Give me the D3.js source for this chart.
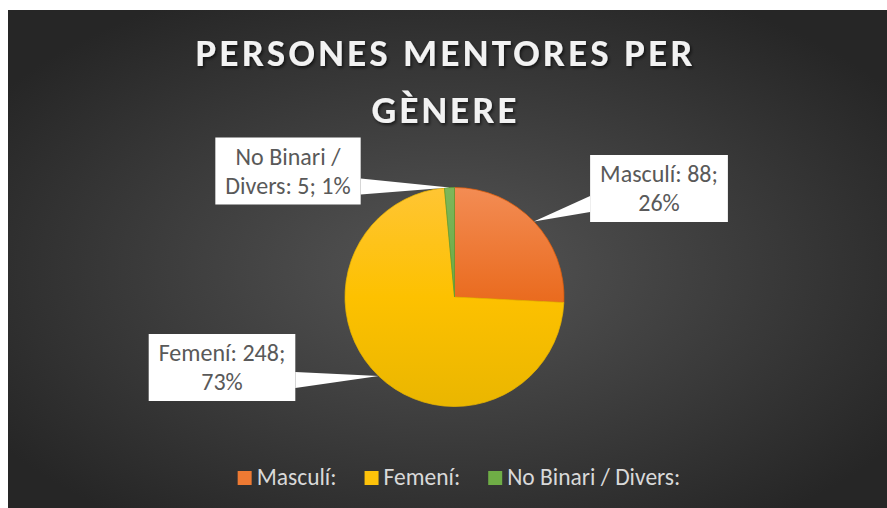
<!DOCTYPE html>
<html>
<head>
<meta charset="utf-8">
<script src="https://cdn.jsdelivr.net/npm/d3@7"></script>
<style>
  body { margin: 0; background: #fff; }
  svg { display: block; }
</style>
</head>
<body>
<div id="chart"></div>
<script>
// data
var categories = ["Masculí", "Femení", "No Binari / Divers"];
var values = [88, 248, 5];
var titleLines = ["PERSONES MENTORES PER", "GÈNERE"];

var width = 887, height = 508;
var font = "Carlito, Calibri, Lato, sans-serif";

// gradient stops (top, middle, bottom) per slice
var sliceColors = [["#F38C54", "#EA6C20", "#DE5C0A"], ["#FFC534", "#FDC100", "#EAB600"], ["#7DB75A", "#6CA944", "#5E9D35"]];
var legendColors = ["#EE7A33", "#FDC20A", "#6FAD46"];

var svg = d3.select("#chart").append("svg")
    .attr("width", width)
    .attr("height", height);

var defs = svg.append("defs");

// background radial gradient
var bg = defs.append("radialGradient").attr("id", "bg")
    .attr("cx", "50%").attr("cy", "52%").attr("r", "62%");
bg.append("stop").attr("offset", "0%").attr("stop-color", "#555555");
bg.append("stop").attr("offset", "100%").attr("stop-color", "#262626");

var shadow = defs.append("filter").attr("id", "shadow")
    .attr("x", "-10%").attr("y", "-30%").attr("width", "120%").attr("height", "160%");
shadow.append("feDropShadow")
    .attr("dx", 1.5).attr("dy", 2).attr("stdDeviation", 1.5)
    .attr("flood-color", "#000").attr("flood-opacity", 0.6);

svg.append("rect")
    .attr("x", 8).attr("y", 10)
    .attr("width", width - 8).attr("height", height - 10)
    .attr("fill", "url(#bg)");

// title
svg.append("g")
    .attr("filter", "url(#shadow)")
    .selectAll("text")
    .data(titleLines)
    .enter().append("text")
    .attr("x", 444)
    .attr("y", (d, i) => 66 + i * 57)
    .attr("text-anchor", "middle")
    .attr("font-family", font)
    .attr("font-weight", "bold")
    .attr("font-size", 39)
    .attr("fill", "#F2F2F2")
    .attr("textLength", (d, i) => i === 0 ? 497 : 145)
    .attr("lengthAdjust", "spacing")
    .text(d => d);

// pie
var cx = 454.5, cy = 297, r = 109.5;
var total = d3.sum(values);
var pieData = d3.pie().sort(null)(values);
var arc = d3.arc().innerRadius(0).outerRadius(r);
var edgeArc = d3.arc().innerRadius(r).outerRadius(r);

// vertical gradient across the whole pie (local coords of the pie group)
sliceColors.forEach(function(c, i) {
    var g = defs.append("linearGradient").attr("id", "slice" + i)
        .attr("gradientUnits", "userSpaceOnUse")
        .attr("x1", 0).attr("y1", -r).attr("x2", 0).attr("y2", r);
    g.append("stop").attr("offset", "0%").attr("stop-color", c[0]);
    g.append("stop").attr("offset", "50%").attr("stop-color", c[1]);
    g.append("stop").attr("offset", "100%").attr("stop-color", c[2]);
});

var pieG = svg.append("g").attr("transform", "translate(" + cx + "," + cy + ")");
pieG.selectAll("path")
    .data(pieData)
    .enter().append("path")
    .attr("d", arc)
    .attr("fill", (d, i) => "url(#slice" + i + ")")
    .attr("stroke", (d, i) => sliceColors[i][2])
    .attr("stroke-width", 0.75);

// data label callouts
var labelOffset = [[204.5, -108.5], [-232.5, 70.5], [-166.5, -126]];
var labelFont = 24, lineH = 29, boxH = 67;

var labelsG = svg.append("g");
pieData.forEach(function(d, i) {
    var pct = Math.round(values[i] / total * 100);
    var words = (categories[i] + ": " + values[i] + "; " + pct + "%").split(" ");

    // greedy wrap
    var tmp = labelsG.append("text").attr("font-family", font).attr("font-size", labelFont);
    var lines = [], cur = "";
    words.forEach(function(w) {
        var test = cur ? cur + " " + w : w;
        tmp.text(test);
        if (cur && tmp.node().getComputedTextLength() > 140) {
            lines.push(cur);
            cur = w;
        } else cur = test;
    });
    lines.push(cur);
    var maxW = d3.max(lines, function(l) { tmp.text(l); return tmp.node().getComputedTextLength(); });
    tmp.remove();

    var boxW = maxW + 20;
    var bx = cx + labelOffset[i][0] - boxW / 2;
    var by = cy + labelOffset[i][1] - boxH / 2;
    var tip = edgeArc.centroid(d);
    var tx = cx + tip[0], ty = cy + tip[1];

    // pointer base on the box side that faces the tip
    var baseX = tx > bx + boxW ? bx + boxW : bx;
    var baseC = Math.max(by + 18, Math.min(ty + 4, by + boxH - 18));
    labelsG.append("path")
        .attr("d", "M" + baseX + "," + (baseC - 8) + "L" + tx + "," + ty + "L" + baseX + "," + (baseC + 8) + "Z")
        .attr("fill", "#fff");
    labelsG.append("rect")
        .attr("x", bx).attr("y", by)
        .attr("width", boxW).attr("height", boxH)
        .attr("fill", "#fff");

    labelsG.append("text")
        .attr("font-family", font)
        .attr("font-size", labelFont)
        .attr("fill", "#595959")
        .attr("text-anchor", "middle")
        .selectAll("tspan")
        .data(lines)
        .enter().append("tspan")
        .attr("x", bx + boxW / 2)
        .attr("y", (l, j) => by + 27 + j * lineH)
        .text(l => l);
});

// legend
var legend = svg.append("g");
var items = legend.selectAll("g")
    .data(categories)
    .enter().append("g");
items.append("rect")
    .attr("width", 14).attr("height", 14)
    .attr("y", 471)
    .attr("fill", (d, i) => legendColors[i]);
items.append("text")
    .attr("x", 19)
    .attr("y", 485)
    .attr("font-family", font)
    .attr("font-size", 23.5)
    .attr("fill", "#D9D9D9")
    .text(d => d + ":");

var x = 0, pos = [];
items.each(function() {
    pos.push(x);
    x += 19 + d3.select(this).select("text").node().getComputedTextLength() + 28;
});
var legendW = x - 28;
var lx0 = 459 - legendW / 2;
items.attr("transform", (d, i) => "translate(" + (lx0 + pos[i]) + ",0)");
</script>
</body>
</html>
